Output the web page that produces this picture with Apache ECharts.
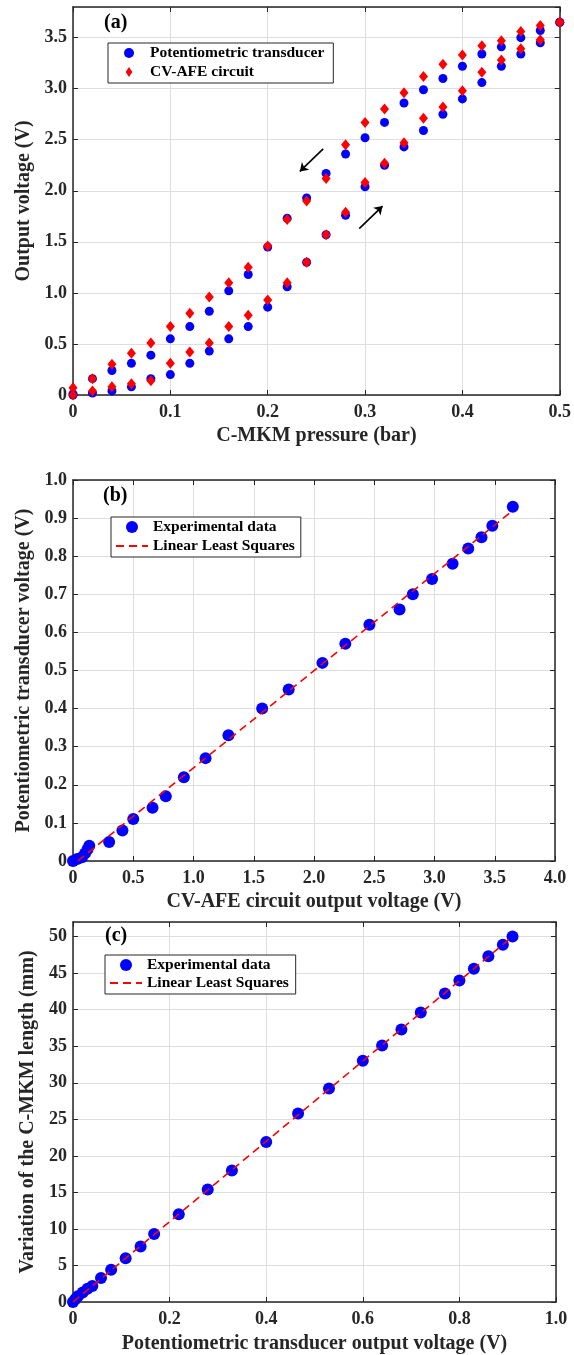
<!DOCTYPE html>
<html>
<head>
<meta charset="utf-8">
<script src="https://cdn.jsdelivr.net/npm/echarts@6/dist/echarts.min.js"></script>
<style>
  html, body { margin: 0; padding: 0; background: #fff; }
  #chart { width: 574px; height: 1355px; }
</style>
</head>
<body>
<div id="chart"></div>
<script>
// panel (a): output voltage vs pressure, two branches (loading / unloading)
const pressure = [0, 0.02, 0.04, 0.06, 0.08, 0.10, 0.12, 0.14, 0.16, 0.18, 0.20, 0.22, 0.24,
  0.26, 0.28, 0.30, 0.32, 0.34, 0.36, 0.38, 0.40, 0.42, 0.44, 0.46, 0.48, 0.50];
const potUpper = [0.01, 0.16, 0.24, 0.31, 0.39, 0.55, 0.67, 0.82, 1.02, 1.18, 1.45, 1.73, 1.93,
  2.17, 2.36, 2.52, 2.67, 2.86, 2.99, 3.10, 3.22, 3.34, 3.41, 3.50, 3.57, 3.65];
const potLower = [0, 0.02, 0.04, 0.08, 0.16, 0.20, 0.31, 0.43, 0.55, 0.67, 0.86, 1.06, 1.30,
  1.57, 1.76, 2.04, 2.25, 2.43, 2.59, 2.75, 2.90, 3.06, 3.22, 3.34, 3.45, 3.65];
const afeUpper = [0.07, 0.16, 0.30, 0.41, 0.51, 0.67, 0.80, 0.96, 1.10, 1.25, 1.46, 1.72, 1.90,
  2.12, 2.45, 2.67, 2.80, 2.96, 3.12, 3.24, 3.33, 3.42, 3.47, 3.56, 3.62, 3.65];
const afeLower = [0, 0.04, 0.08, 0.11, 0.14, 0.31, 0.42, 0.51, 0.67, 0.78, 0.93, 1.10, 1.30,
  1.57, 1.79, 2.08, 2.27, 2.47, 2.71, 2.82, 2.98, 3.16, 3.28, 3.39, 3.48, 3.65];
const arrowDown = [[0.257, 2.41], [0.233, 2.19]];
const arrowUp = [[0.294, 1.63], [0.318, 1.85]];

// panel (b): potentiometric voltage vs CV-AFE output
const bX = [0, 0.035, 0.075, 0.10, 0.12, 0.135, 0.30, 0.41, 0.50, 0.66, 0.77, 0.92, 1.10, 1.29,
  1.57, 1.79, 2.07, 2.26, 2.46, 2.71, 2.82, 2.98, 3.15, 3.28, 3.39, 3.48, 3.65];
const bY = [0, 0.005, 0.01, 0.02, 0.03, 0.04, 0.05, 0.08, 0.11, 0.14, 0.17, 0.22, 0.27, 0.33,
  0.40, 0.45, 0.52, 0.57, 0.62, 0.66, 0.70, 0.74, 0.78, 0.82, 0.85, 0.88, 0.93];
const bFitX = [0.04, 3.65];
const bFitY = [0, 0.92];

// panel (c): C-MKM length vs potentiometric voltage
const cX = [0, 0.005, 0.01, 0.02, 0.03, 0.04, 0.058, 0.079, 0.109, 0.14, 0.168, 0.219, 0.279,
  0.329, 0.40, 0.466, 0.53, 0.60, 0.64, 0.68, 0.72, 0.77, 0.80, 0.83, 0.86, 0.89, 0.91];
const cY = [0, 0.4, 0.8, 1.3, 1.8, 2.2, 3.3, 4.4, 6.0, 7.6, 9.3, 12.0, 15.4, 18.0, 21.9, 25.8,
  29.2, 33.0, 35.1, 37.3, 39.6, 42.2, 44.0, 45.6, 47.3, 48.9, 50.0];
const cFitX = [0, 0.91];
const cFitY = [0, 50];

const font = '"Liberation Serif", "Times New Roman", serif';
const ink = '#262626';
const diamondIcon = 'path://M5,0 L9,6 L5,12 L1,6 Z';

const zip = (xs, ys) => xs.map((x, i) => [x, ys[i]]);
const dec1 = v => (v === 0 ? '0' : v.toFixed(1));
const int0 = v => String(Math.round(v));

function axisPair(kind, gridIndex, min, max, interval, fmt, name, nameGap, showMax) {
  const main = {
    type: 'value', gridIndex, min, max, interval,
    position: kind === 'x' ? 'bottom' : 'left',
    name, nameLocation: 'middle', nameGap,
    nameTextStyle: { fontFamily: font, fontWeight: 'bold', fontSize: 20, color: ink },
    axisLine: { show: true, onZero: false, lineStyle: { color: ink, width: 1.5 } },
    axisTick: { show: true, inside: true, length: 5, lineStyle: { color: ink, width: 1 } },
    axisLabel: {
      fontFamily: font, fontWeight: 'bold', fontSize: 18, color: ink,
      margin: kind === 'x' ? 8 : 6, formatter: fmt, showMaxLabel: showMax
    },
    splitLine: { show: true, lineStyle: { color: '#dedede', width: 1 } }
  };
  const mirror = {
    type: 'value', gridIndex, min, max, interval,
    position: kind === 'x' ? 'top' : 'right',
    axisLine: { show: true, onZero: false, lineStyle: { color: ink, width: 1.5 } },
    axisTick: { show: true, inside: true, length: 5, lineStyle: { color: ink, width: 1 } },
    axisLabel: { show: false },
    splitLine: { show: false }
  };
  return [main, mirror];
}

function legendAt(left, top, names, itemHeight, gap, padLeft, padRight) {
  return {
    orient: 'vertical', left, top, data: names,
    itemWidth: 32, itemHeight, itemGap: gap, symbolKeepAspect: true,
    padding: [2, padRight, 3, padLeft],
    borderColor: ink, borderWidth: 1, backgroundColor: '#fff',
    textStyle: { fontFamily: font, fontWeight: 'bold', fontSize: 15.5, color: '#000' }
  };
}

function panelTag(text, left, top) {
  return {
    text, left, top, padding: 0,
    textStyle: { fontFamily: font, fontWeight: 'bold', fontSize: 20, color: '#000' }
  };
}

const dashOnly = name => ({ name, itemStyle: { opacity: 0 } });

const option = {
  animation: false,
  backgroundColor: '#fff',
  title: [
    panelTag('(a)', 104, 13),
    panelTag('(b)', 103, 486),
    panelTag('(c)', 105, 926)
  ],
  legend: [
    legendAt(108, 43, ['Potentiometric transducer', { name: 'CV-AFE circuit', icon: diamondIcon }], 10, 3, 16, 9),
    legendAt(111, 517, ['Experimental data', dashOnly('Linear Least Squares')], 12, 3, 4, 6),
    legendAt(105, 955, ['Experimental data ', dashOnly('Linear Least Squares ')], 12, 2, 4, 3)
  ],
  grid: [
    { left: 73, top: 7, width: 490, height: 388 },
    { left: 73, top: 480, width: 482, height: 381 },
    { left: 73, top: 922, width: 483, height: 381 }
  ],
  xAxis: [
    ...axisPair('x', 0, 0, 0.5, 0.1, dec1, 'C-MKM pressure (bar)', 31, true),
    ...axisPair('x', 1, 0, 4, 0.5, dec1, 'CV-AFE circuit output voltage (V)', 31, true),
    ...axisPair('x', 2, 0, 1, 0.2, dec1, 'Potentiometric transducer output voltage (V)', 32, true)
  ],
  yAxis: [
    ...axisPair('y', 0, 0, 3.8, 0.5, dec1, 'Output voltage (V)', 34, false),
    ...axisPair('y', 1, 0, 1, 0.1, dec1, 'Potentiometric transducer voltage (V)', 34, true),
    ...axisPair('y', 2, 0, 52, 5, int0, 'Variation of the C-MKM length (mm)', 34, false)
  ],
  series: [
    {
      name: 'Potentiometric transducer', type: 'scatter', xAxisIndex: 0, yAxisIndex: 0,
      symbol: 'circle', symbolSize: 9,
      itemStyle: { color: '#0000ff', opacity: 1 },
      data: zip(pressure, potUpper).concat(zip(pressure, potLower))
    },
    {
      name: 'CV-AFE circuit', type: 'scatter', xAxisIndex: 0, yAxisIndex: 0,
      symbol: 'diamond', symbolSize: [9, 11],
      itemStyle: { color: '#ff0000', opacity: 1 },
      data: zip(pressure, afeUpper).concat(zip(pressure, afeLower))
    },
    {
      type: 'lines', coordinateSystem: 'cartesian2d', xAxisIndex: 0, yAxisIndex: 0,
      symbol: ['none', 'arrow'], symbolSize: 8, silent: true,
      lineStyle: { color: '#000', width: 1.6, opacity: 1 },
      data: [{ coords: arrowDown }, { coords: arrowUp }]
    },
    {
      name: 'Experimental data', type: 'scatter', xAxisIndex: 2, yAxisIndex: 2,
      symbol: 'circle', symbolSize: 12,
      itemStyle: { color: '#0000ff', opacity: 1 },
      data: zip(bX, bY)
    },
    {
      name: 'Linear Least Squares', type: 'line', xAxisIndex: 2, yAxisIndex: 2,
      symbol: 'none', silent: true,
      lineStyle: { color: '#ff0000', width: 1.6, type: [8, 5] },
      itemStyle: { color: '#ff0000' },
      data: zip(bFitX, bFitY)
    },
    {
      name: 'Experimental data ', type: 'scatter', xAxisIndex: 4, yAxisIndex: 4,
      symbol: 'circle', symbolSize: 12,
      itemStyle: { color: '#0000ff', opacity: 1 },
      data: zip(cX, cY)
    },
    {
      name: 'Linear Least Squares ', type: 'line', xAxisIndex: 4, yAxisIndex: 4,
      symbol: 'none', silent: true,
      lineStyle: { color: '#ff0000', width: 1.6, type: [8, 5] },
      itemStyle: { color: '#ff0000' },
      data: zip(cFitX, cFitY)
    }
  ]
};

const chart = echarts.init(document.getElementById('chart'), null, { renderer: 'canvas' });
chart.setOption(option);
</script>
</body>
</html>
